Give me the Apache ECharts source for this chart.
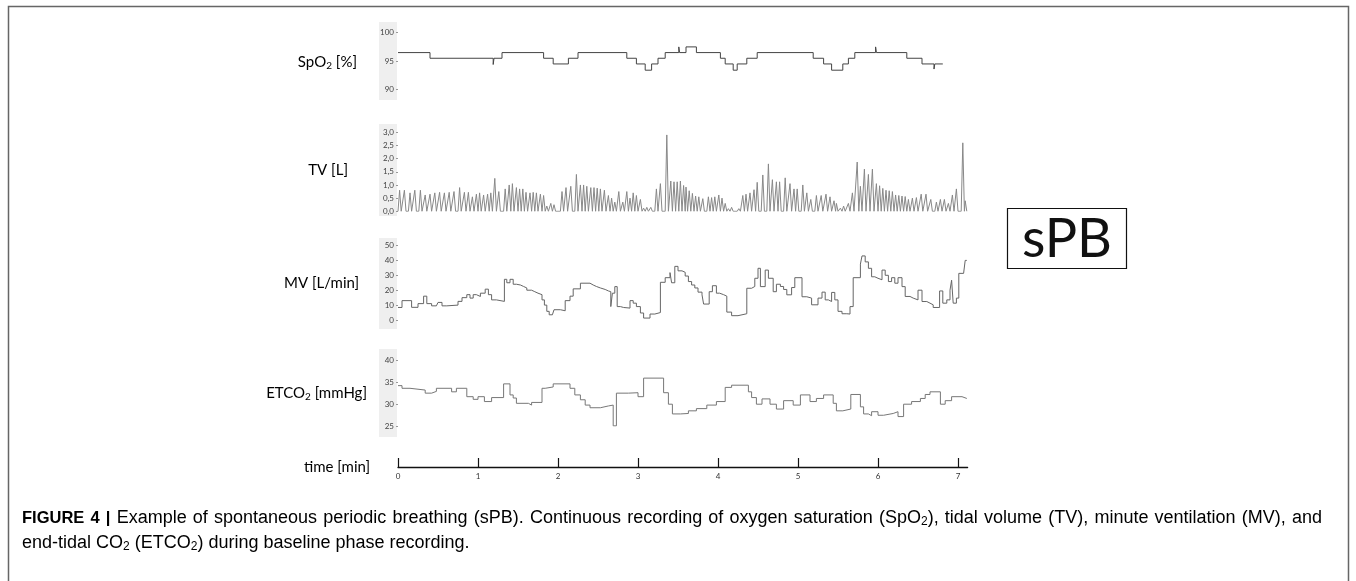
<!DOCTYPE html>
<html>
<head>
<meta charset="utf-8">
<script src="https://cdn.jsdelivr.net/npm/echarts@6/dist/echarts.min.js"></script>
<style>
html, body { margin: 0; padding: 0; background: #fff; }
#main { width: 1356px; height: 581px; }
</style>
</head>
<body>
<div id="main"></div>
<script>
// time axis [min]
var timeTicks = [0, 1, 2, 3, 4, 5, 6, 7];
var timeMax = 7.12;

// SpO2 [%]  -> [min, value], value holds until the next point
var spo2Ticks = [90, 95, 100];
var spo2Data = [
    [0, 96.5], [0.40, 95.5], [1.19, 94.4], [1.20, 95.5], [1.30, 96.5], [1.82, 95.5],
    [1.94, 94.5], [2.13, 95.5], [2.25, 96.5], [2.86, 95.5], [2.98, 94.5], [3.09, 93.4],
    [3.17, 94.5], [3.25, 95.5], [3.34, 96.5], [3.51, 97.5], [3.52, 96.5], [3.60, 97.5],
    [3.73, 96.5], [4.03, 95.5], [4.09, 94.5], [4.19, 93.4], [4.24, 94.5], [4.36, 95.5],
    [4.49, 96.5], [5.19, 95.5], [5.32, 94.5], [5.42, 93.4], [5.56, 94.5], [5.63, 95.5],
    [5.71, 96.5], [5.97, 97.5], [5.98, 96.5], [6.36, 95.5], [6.55, 94.5], [6.70, 93.6],
    [6.71, 94.5], [6.81, 94.5]
];

// TV [L]  -> one peak per breath
var tvTicks = [0, 0.5, 1, 1.5, 2, 2.5, 3];
var tvTimes = [
    0.02, 0.08, 0.15, 0.21, 0.28, 0.34, 0.40, 0.46, 0.52, 0.58, 0.64, 0.70, 0.77, 0.83,
    0.88, 0.93, 0.98, 1.02, 1.07, 1.12, 1.16, 1.21, 1.26, 1.34, 1.39, 1.43, 1.48, 1.52,
    1.56, 1.60, 1.65, 1.69, 1.73, 1.78, 1.82, 1.86, 1.91, 1.95, 2.05, 2.10, 2.16, 2.23,
    2.28, 2.32, 2.36, 2.41, 2.45, 2.49, 2.53, 2.58, 2.63, 2.67, 2.71, 2.76, 2.81, 2.86,
    2.90, 2.94, 2.98, 3.03, 3.07, 3.11, 3.16, 3.23, 3.28, 3.36, 3.41, 3.45, 3.49, 3.53,
    3.57, 3.60, 3.64, 3.68, 3.72, 3.76, 3.81, 3.88, 3.92, 3.96, 4.01, 4.05, 4.09, 4.13,
    4.17, 4.26, 4.31, 4.35, 4.40, 4.45, 4.49, 4.56, 4.63, 4.68, 4.73, 4.77, 4.84, 4.90,
    4.95, 4.99, 5.06, 5.11, 5.16, 5.23, 5.29, 5.35, 5.40, 5.45, 5.48, 5.53, 5.57, 5.63,
    5.68, 5.74, 5.78, 5.83, 5.88, 5.93, 5.98, 6.02, 6.06, 6.10, 6.14, 6.18, 6.22, 6.26,
    6.30, 6.34, 6.38, 6.43, 6.48, 6.54, 6.60, 6.66, 6.73, 6.78, 6.83, 6.88, 6.93, 6.98,
    7.06, 7.09
];
var tvPeaks = [
    0.80, 0.80, 0.70, 0.80, 0.80, 0.62, 0.65, 0.70, 0.72, 0.70, 0.72, 0.75, 0.90, 0.72,
    0.72, 0.55, 0.65, 0.70, 0.62, 0.65, 0.70, 1.25, 0.75, 0.85, 1.00, 1.05, 0.90, 0.85,
    0.85, 0.72, 0.70, 0.72, 0.70, 0.65, 0.60, 0.20, 0.30, 0.25, 0.75, 0.90, 0.95, 1.40,
    1.00, 1.00, 0.95, 0.90, 0.90, 0.88, 0.85, 0.80, 0.60, 0.50, 0.35, 0.75, 0.35, 0.75,
    0.50, 0.70, 0.60, 0.45, 0.12, 0.15, 0.15, 0.85, 1.05, 2.90, 1.15, 1.12, 1.12, 1.15,
    0.98, 0.92, 0.78, 0.68, 0.58, 0.55, 0.48, 0.55, 0.52, 0.55, 0.62, 0.50, 0.30, 0.10,
    0.15, 0.10, 0.60, 0.65, 0.70, 0.82, 1.10, 1.38, 1.80, 1.20, 1.12, 1.12, 1.27, 1.05,
    0.85, 0.85, 1.00, 0.70, 0.45, 0.60, 0.60, 0.65, 0.55, 0.40, 0.30, 0.12, 0.20, 0.30,
    0.70, 1.87, 0.95, 1.60, 1.40, 1.60, 1.05, 0.97, 0.87, 0.80, 0.78, 0.75, 0.62, 0.60,
    0.58, 0.56, 0.45, 0.50, 0.52, 0.65, 0.65, 0.45, 0.35, 0.45, 0.45, 0.30, 0.62, 0.85,
    2.60, 0.40
];

// MV [L/min]
var mvTicks = [0, 10, 20, 30, 40, 50];
var mvData = [
    [0, 8.4], [0.05, 13], [0.17, 8.5], [0.25, 11], [0.32, 16], [0.36, 11], [0.42, 9.5],
    [0.48, 8.7], [0.50, 11.8], [0.55, 9.5], [0.61, 10], [0.75, 12.5], [0.80, 15], [0.86, 17],
    [0.90, 14.7], [0.94, 17], [0.98, 15.8], [1.03, 18], [1.09, 20.7], [1.13, 17], [1.17, 13.5],
    [1.23, 12.5], [1.33, 27.3], [1.36, 25], [1.40, 27.3], [1.44, 24], [1.48, 23.5], [1.53, 22.5],
    [1.57, 21.5], [1.61, 20], [1.67, 19], [1.71, 18], [1.75, 17], [1.80, 13.5], [1.83, 10],
    [1.86, 5.8], [1.89, 3.5], [1.93, 4.7], [1.95, 6.9], [2.03, 6.2], [2.09, 13], [2.15, 16],
    [2.19, 20.9], [2.28, 24.7], [2.40, 23.5], [2.44, 22.5], [2.48, 21.5], [2.53, 20.5],
    [2.59, 19.5], [2.63, 19], [2.66, 9], [2.68, 18], [2.71, 22.4], [2.74, 9], [2.78, 8.4],
    [2.82, 8], [2.90, 13], [2.94, 11.3], [2.98, 9], [3.03, 4.7], [3.07, 1.3], [3.15, 4],
    [3.21, 5], [3.28, 25.3], [3.34, 28.4], [3.40, 31.8], [3.42, 25], [3.46, 36], [3.50, 33],
    [3.55, 32], [3.59, 29.5], [3.63, 25.8], [3.67, 23.5], [3.71, 21.5], [3.75, 18.7],
    [3.80, 16.9], [3.82, 10.7], [3.89, 19], [3.93, 23], [3.98, 18], [4.02, 17], [4.07, 16],
    [4.11, 5.3], [4.17, 2.9], [4.25, 4.2], [4.36, 21.3], [4.42, 22.5], [4.46, 28], [4.50, 34.7],
    [4.53, 22.4], [4.59, 33.5], [4.63, 28], [4.69, 19], [4.73, 24], [4.78, 22.5], [4.82, 20.5],
    [4.86, 16.9], [4.92, 21.8], [4.96, 28.4], [5.05, 15.6], [5.11, 14.7], [5.17, 10.2],
    [5.25, 14.7], [5.30, 18.7], [5.34, 13.5], [5.38, 12.4], [5.42, 18.5], [5.46, 13.5],
    [5.50, 5.8], [5.55, 4.2], [5.61, 4], [5.65, 9], [5.69, 28.4], [5.78, 37.5], [5.80, 43],
    [5.84, 39], [5.88, 34.7], [5.92, 29], [5.96, 28], [6.00, 27], [6.05, 33.5], [6.09, 30],
    [6.13, 25.8], [6.17, 28.4], [6.21, 24.7], [6.25, 28.4], [6.30, 22.4], [6.34, 15.8],
    [6.40, 14.7], [6.44, 13.5], [6.50, 20], [6.55, 12.4], [6.61, 11.3], [6.65, 10.2],
    [6.69, 8.4], [6.77, 19.5], [6.81, 11.3], [6.86, 13.5], [6.90, 20], [6.92, 26.7],
    [6.94, 11.3], [6.98, 14.7], [7.01, 31.3], [7.07, 32], [7.09, 40], [7.11, 40]
];

// ETCO2 [mmHg]
var etco2Ticks = [25, 30, 35, 40];
var etco2Data = [
    [0, 34.2], [0.05, 33.6], [0.15, 33.2], [0.34, 32.5], [0.42, 32.9], [0.48, 33.6],
    [0.67, 32.8], [0.73, 33.6], [0.86, 31.7], [0.94, 31.1], [1.00, 31.7], [1.08, 30.6],
    [1.17, 31.5], [1.32, 34.6], [1.40, 32.1], [1.44, 31.4], [1.48, 30.2], [1.63, 29.8],
    [1.67, 30.4], [1.80, 33.6], [1.84, 33.9], [1.94, 34.6], [2.15, 33.6], [2.21, 32.1],
    [2.28, 31], [2.34, 29.8], [2.40, 29.2], [2.53, 29.6], [2.63, 29.8], [2.69, 25.1],
    [2.73, 32.5], [2.88, 32.6], [3.00, 31.7], [3.07, 35.9], [3.32, 32.6], [3.38, 30],
    [3.43, 27.8], [3.53, 27.9], [3.63, 28.5], [3.73, 29], [3.86, 29.8], [3.98, 30.6],
    [4.09, 33.8], [4.17, 34.3], [4.38, 32.8], [4.42, 31.5], [4.48, 30], [4.55, 31.2],
    [4.65, 30], [4.73, 28.9], [4.82, 30.8], [4.94, 29.8], [5.03, 32.1], [5.15, 30.6],
    [5.23, 31.3], [5.32, 32.1], [5.44, 30.2], [5.48, 28.5], [5.56, 28.9], [5.66, 32.2],
    [5.78, 29.4], [5.82, 27.8], [5.88, 27.4], [5.92, 28.3], [6.00, 27.5], [6.07, 27.9],
    [6.19, 28.3], [6.25, 27.2], [6.32, 30], [6.42, 30.6], [6.53, 31.3], [6.59, 32.2],
    [6.65, 32.8], [6.78, 30], [6.84, 30.8], [6.92, 31.7], [7.05, 31.3], [7.11, 31.3]
];

// TV: each breath is a narrow peak that goes back to zero
var breathHalfWidth = 0.02;
var tvData = [];
for (var i = 0; i < tvTimes.length; i++) {
    tvData.push([tvTimes[i] - breathHalfWidth, 0]);
    tvData.push([tvTimes[i], tvPeaks[i]]);
    tvData.push([tvTimes[i] + breathHalfWidth, 0]);
}

var chart = echarts.init(document.getElementById('main'));

var labelFont = 'Lato, "Open Sans", sans-serif';
var plotLeft = 398;
var plotRight = 1356 - (398 + timeMax * 80);

// panel layout (top, height in px)
var panels = [
    { top: 32.7, height: 56.8, ticks: spo2Ticks, interval: 5 },
    { top: 132.3, height: 79, ticks: tvTicks, interval: 0.5 },
    { top: 245.5, height: 74.5, ticks: mvTicks, interval: 10 },
    { top: 360, height: 66.3, ticks: etco2Ticks, interval: 5 }
];

var grids = [], xAxes = [], yAxes = [];
panels.forEach(function (p, k) {
    grids.push({ left: plotLeft, right: plotRight, top: p.top, height: p.height });
    xAxes.push({ gridIndex: k, type: 'value', min: 0, max: timeMax, show: false });
    yAxes.push({
        gridIndex: k,
        type: 'value',
        min: p.ticks[0],
        max: p.ticks[p.ticks.length - 1],
        interval: p.interval,
        axisLine: { show: false },
        axisTick: { show: true, length: 2, lineStyle: { color: '#999' } },
        splitLine: { show: false },
        axisLabel: {
            fontSize: 8,
            color: '#444',
            margin: 4,
            fontFamily: labelFont,
            formatter: k === 1 ? function (v) { return v.toFixed(1).replace('.', ','); } : null
        }
    });
});

// time axis at the bottom
grids.push({ left: plotLeft, right: plotRight, top: 459, height: 8 });
xAxes.push({
    gridIndex: 4,
    type: 'value',
    min: 0,
    max: timeMax,
    axisLine: { show: true, lineStyle: { color: '#111', width: 1.3 } },
    axisTick: { show: true, inside: true, length: 9, customValues: timeTicks, lineStyle: { color: '#111', width: 1.2 } },
    axisLabel: { customValues: timeTicks, fontSize: 8, color: '#333', margin: 5, fontFamily: labelFont },
    splitLine: { show: false }
});
yAxes.push({ gridIndex: 4, type: 'value', show: false });

function lineSeries(idx, data, color, step) {
    return {
        type: 'line',
        xAxisIndex: idx,
        yAxisIndex: idx,
        data: data,
        step: step,
        showSymbol: false,
        silent: true,
        lineStyle: { color: color, width: 1 }
    };
}

// grey strips behind the y axes
var strips = [[22, 100], [124, 216], [238, 329], [349, 437]];

var graphics = [];
strips.forEach(function (s) {
    graphics.push({
        type: 'rect', silent: true, z: -10,
        shape: { x: 379, y: s[0], width: 18, height: s[1] - s[0] },
        style: { fill: '#efefef' }
    });
});

var rich = {
    t: { fontSize: 15, fontFamily: labelFont, color: '#222', lineHeight: 18, verticalAlign: 'middle' },
    s: { fontSize: 10, fontFamily: labelFont, color: '#222', lineHeight: 18, verticalAlign: 'bottom' }
};
function panelLabel(text, x, y) {
    return {
        type: 'text', silent: true, x: x, y: y,
        style: { text: text, rich: rich, align: 'right', verticalAlign: 'middle' }
    };
}
graphics.push(panelLabel('{t|SpO}{s|2}{t| [%]}', 357, 62));
graphics.push(panelLabel('{t|TV [L]}', 348, 170));
graphics.push(panelLabel('{t|MV [L/min]}', 359, 283));
graphics.push(panelLabel('{t|ETCO}{s|2}{t| [mmHg]}', 367, 393));
graphics.push(panelLabel('{t|time [min]}', 370, 467));

// sPB box
graphics.push({
    type: 'rect', silent: true,
    shape: { x: 1007.5, y: 208.5, width: 119, height: 60 },
    style: { fill: '#fff', stroke: '#111', lineWidth: 1.2 }
});
graphics.push({
    type: 'text', silent: true, x: 1067, y: 240,
    style: { text: 'sPB', font: '54px ' + labelFont, fill: '#111', align: 'center', verticalAlign: 'middle' }
});

// figure frame
graphics.push({
    type: 'rect', silent: true,
    shape: { x: 8.5, y: 6.5, width: 1340, height: 600 },
    style: { fill: 'none', stroke: '#666', lineWidth: 1.5 }
});

// caption (first line justified to the full width)
var capFamily = '"Liberation Sans", Arial, sans-serif';
var capSize = 18, capBold = 16.5, capSub = 12;
var capRich = {
    b: { fontSize: capBold, fontWeight: 'bold', fontFamily: capFamily, color: '#222', lineHeight: 20, verticalAlign: 'middle' },
    n: { fontSize: capSize, fontFamily: capFamily, color: '#222', lineHeight: 20, verticalAlign: 'middle' },
    s: { fontSize: capSub, fontFamily: capFamily, color: '#222', lineHeight: 20, verticalAlign: 'bottom' }
};
var measureCtx = document.createElement('canvas').getContext('2d');
function partWidth(part) {
    var size = part[0] === 's' ? capSub : (part[0] === 'b' ? capBold : capSize);
    measureCtx.font = (part[0] === 'b' ? 'bold ' : '') + size + 'px ' + capFamily;
    return measureCtx.measureText(part[1]).width;
}
var line1Words = [[['b', 'FIGURE']], [['b', '4']], [['b', '|']]];
'Example of spontaneous periodic breathing (sPB). Continuous recording of oxygen saturation'.split(' ').forEach(function (w) {
    line1Words.push([['n', w]]);
});
line1Words.push([['n', '(SpO'], ['s', '2'], ['n', '),']]);
'tidal volume (TV), minute ventilation (MV), and'.split(' ').forEach(function (w) {
    line1Words.push([['n', w]]);
});
var capLeft = 22, capRightEdge = 1322;
var wordWidths = line1Words.map(function (word) {
    return word.reduce(function (sum, p) { return sum + partWidth(p); }, 0);
});
var totalW = wordWidths.reduce(function (a, b) { return a + b; }, 0);
var gap = (capRightEdge - capLeft - totalW) / (line1Words.length - 1);
var cx = capLeft;
line1Words.forEach(function (word, k) {
    graphics.push({
        type: 'text', silent: true, x: cx, y: 518,
        style: {
            text: word.map(function (p) { return '{' + p[0] + '|' + p[1] + '}'; }).join(''),
            rich: capRich, align: 'left', verticalAlign: 'middle'
        }
    });
    cx += wordWidths[k] + gap;
});
graphics.push({
    type: 'text', silent: true, x: capLeft, y: 543,
    style: {
        text: '{n|end-tidal CO}{s|2}{n| (ETCO}{s|2}{n|) during baseline phase recording.}',
        rich: capRich, align: 'left', verticalAlign: 'middle'
    }
});

var option = {
    animation: false,
    backgroundColor: '#fff',
    grid: grids,
    xAxis: xAxes,
    yAxis: yAxes,
    graphic: graphics,
    series: [
        lineSeries(0, spo2Data, '#444', 'end'),
        lineSeries(1, tvData, '#888', false),
        lineSeries(2, mvData, '#666', 'end'),
        lineSeries(3, etco2Data, '#777', 'end')
    ]
};

chart.setOption(option);
</script>
</body>
</html>
